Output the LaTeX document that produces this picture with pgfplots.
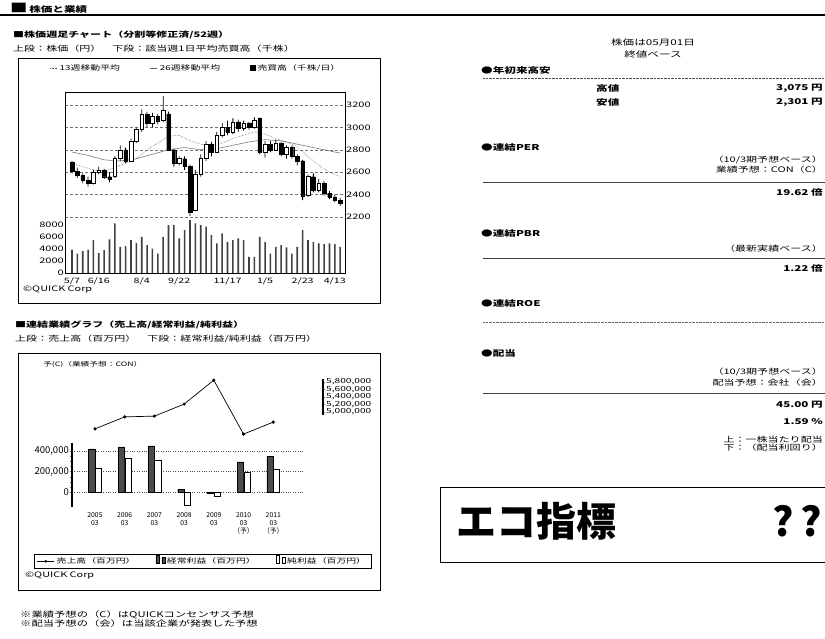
\documentclass[border=0pt]{standalone}
\usepackage{pgfplots}
\pgfplotsset{compat=1.18}
\usepackage{pgfplotstable}
\usepackage{fontspec}
\setmainfont{Noto Sans CJK JP}[FakeStretch=1.45]
\newfontfamily\jpn{Noto Sans CJK JP}
\newcommand\fs[2]{\fontsize{#1}{#2}\selectfont}
\pgfplotstableread{
w o c h l v
0 2690 2610 2700 2590 3900
1 2610 2570 2640 2550 3240
2 2570 2530 2590 2500 3630
3 2530 2500 2560 2470 3900
4 2500 2600 2620 2490 5480
5 2600 2620 2650 2580 3350
6 2620 2560 2630 2540 3800
7 2560 2540 2600 2510 5590
8 2560 2720 2740 2550 8270
9 2720 2800 2840 2700 4360
10 2800 2700 2820 2680 4470
11 2700 2880 2900 2690 5480
12 2880 2980 3000 2860 5030
13 2980 3120 3160 2960 6040
14 3120 3040 3140 3000 4640
15 3040 3100 3130 3000 4080
16 3100 3060 3120 3030 3240
17 3060 3150 3280 3050 6040
18 3120 2800 3140 2790 7990
19 2800 2680 2810 2650 7990
20 2680 2720 2740 2660 5760
21 2720 2650 2740 2620 7160
22 2650 2240 2670 2210 8830
23 2260 2580 2620 2250 8270
24 2580 2720 2760 2560 7990
25 2720 2850 2880 2700 7710
26 2850 2780 2870 2740 6320
27 2780 2930 2960 2770 4920
28 2930 3000 3040 2910 6600
29 3000 2960 3060 2930 5200
30 2960 3050 3080 2940 5480
31 3050 2990 3070 2960 5760
32 2990 3040 3060 2970 5480
33 3040 3000 3050 2980 2680
34 3000 3060 3090 2990 2680
35 3080 2780 3090 2760 6040
36 2780 2850 2880 2730 5200
37 2850 2800 2880 2780 3240
38 2800 2860 2890 2790 4360
39 2860 2760 2870 2740 4640
40 2760 2820 2840 2720 4250
41 2820 2740 2840 2720 3240
42 2740 2700 2760 2660 4360
43 2700 2390 2710 2350 7160
44 2390 2560 2580 2380 5480
45 2560 2440 2590 2420 5200
46 2440 2500 2540 2420 4920
47 2500 2410 2520 2390 4800
48 2410 2380 2430 2360 4920
49 2380 2350 2400 2330 4800
50 2350 2320 2370 2300 4360
}\weekly
\begin{document}
\begin{tikzpicture}[x=1pt,y=1pt]
\useasboundingbox (0,0) rectangle (825,638);
\clip (0,0) rectangle (825,638);
\fill[white] (0,0) rectangle (825,638);
% header
\node[anchor=west,inner sep=0] at (10,630) {{\fs{12}{12}■}\,\fs{8}{8}\bfseries 株価と業績};
\draw[line width=1.2pt] (0,623) -- (825,623);
% ---------- chart 1 ----------
\node[anchor=west,inner sep=0] at (13,603) {\fs{7.6}{8}\bfseries ■株価週足チャート（分割等修正済/52週）};
\node[anchor=west,inner sep=0] at (13,589) {\fs{7.6}{8}上段：株価（円）　下段：該当週1日平均売買高（千株）};
\draw[line width=0.7pt] (18,580) rectangle (380,335);
\node[anchor=west,inner sep=0] at (23,348) {\fs{7.5}{8}©QUICK Corp};

% price axis with grid, moving averages, legend
\begin{axis}[at={(65pt,417pt)}, anchor=south west, scale only axis, width=280pt, height=129pt,
  xmin=-1.3, xmax=50.9, ymin=2164, ymax=3316,
  axis line style={draw=none}, tick style={draw=none}, xtick=\empty,
  ytick={2200,2400,2600,2800,3000,3200}, yticklabels={2200,2400,2600,2800,3000,3200},
  yticklabel pos=right, yticklabel style={font=\fs{7.6}{8}, inner xsep=1pt},
  ymajorgrids, grid style={densely dashed, black!55, line width=0.4pt},
  legend style={at={(0.468,1.186)}, anchor=center, draw=none, fill=none, font=\fs{6.8}{7},
    legend columns=3, /tikz/every even column/.append style={column sep=28pt}},
  legend cell align=left,
  legend image code/.code={\draw[#1,line width=0.9pt] (0pt,0pt) -- (7pt,0pt);}]
\addplot[black!70, line width=0.5pt, densely dotted] coordinates {(0,2680) (2,2650) (4,2620) (6,2610) (8,2640) (10,2680) (12,2720) (14,2800) (16,2860) (18,2920) (20,2930) (22,2880) (24,2850) (26,2840) (28,2860) (30,2900) (32,2930) (34,2960) (36,2940) (38,2900) (40,2870) (42,2830) (44,2740) (46,2660) (48,2600) (50,2560)};
\addlegendentry{13週移動平均}
\addplot[black!60, line width=0.5pt] coordinates {(0,2780) (3,2750) (6,2710) (9,2700) (12,2720) (15,2760) (18,2800) (21,2820) (24,2800) (27,2810) (30,2840) (33,2870) (36,2890) (39,2880) (42,2850) (45,2820) (48,2790) (50,2770)};
\addlegendentry{26週移動平均}
\addlegendimage{legend image code/.code={\fill[black] (0pt,-2.5pt) rectangle (5pt,2.5pt);}}
\addlegendentry{売買高（千株/日）}
\end{axis}

% wicks
\begin{axis}[at={(65pt,417pt)}, anchor=south west, scale only axis, width=280pt, height=129pt,
  xmin=-1.3, xmax=50.9, ymin=2164, ymax=3316, hide axis, ybar stacked, bar width=0.8pt]
\addplot[draw=none, fill=none] table[x=w, y=l]{\weekly};
\addplot[fill=black, draw=none] table[x=w, y expr={\thisrow{h}-\thisrow{l}}]{\weekly};
\end{axis}
% candle bodies
\begin{axis}[at={(65pt,417pt)}, anchor=south west, scale only axis, width=280pt, height=129pt,
  xmin=-1.3, xmax=50.9, ymin=2164, ymax=3316, hide axis, ybar stacked, bar width=3.6pt]
\addplot[draw=none, fill=none] table[x=w, y expr={min(\thisrow{o},\thisrow{c})}]{\weekly};
\addplot[fill=black, draw=black, line width=0.3pt] table[x=w, y expr={max(\thisrow{o}-\thisrow{c},0)}]{\weekly};
\addplot[fill=white, draw=black, line width=0.5pt] table[x=w, y expr={max(\thisrow{c}-\thisrow{o},0)}]{\weekly};
\end{axis}

% volume
\begin{axis}[at={(65pt,365pt)}, anchor=south west, scale only axis, width=280pt, height=52pt,
  xmin=-1.3, xmax=50.9, ymin=0, ymax=8667,
  axis line style={draw=none}, tick style={draw=none},
  ytick={0,2000,4000,6000,8000}, yticklabels={0,2000,4000,6000,8000},
  yticklabel style={font=\fs{7.6}{8}, inner xsep=1pt},
  xtick={0,5,13,20,29,36,43,49}, xticklabels={5/7,6/16,8/4,9/22,11/17,1/5,2/23,4/13},
  xticklabel style={font=\fs{7.4}{8}, yshift=-1pt}]
\addplot[ybar, bar width=1.6pt, fill=black!75, draw=none] table[x=w, y=v]{\weekly};
\end{axis}

% frame
\begin{axis}[at={(65pt,365pt)}, anchor=south west, scale only axis, width=280pt, height=181pt,
  xmin=0, xmax=1, ymin=0, ymax=1, xtick=\empty, ytick=\empty, axis line style={line width=0.7pt}]
\addplot[draw=none] coordinates {(0,0)};
\end{axis}

% ---------- chart 2 ----------
\node[anchor=west,inner sep=0] at (15,313) {\fs{7.6}{8}\bfseries ■連結業績グラフ（売上高/経常利益/純利益）};
\node[anchor=west,inner sep=0] at (15,299) {\fs{7.6}{8}上段：売上高（百万円）　下段：経常利益/純利益（百万円）};
\draw[line width=0.7pt] (18,285) rectangle (380,48);
\node[anchor=west,inner sep=0] at (43,273) {\fs{6}{6}予(C)（業績予想：CON）};
\node[anchor=west,inner sep=0] at (25,62) {\fs{7.5}{8}©QUICK Corp};

% sales (right scale)
\begin{axis}[at={(72pt,223pt)}, anchor=south west, scale only axis, width=251pt, height=35.6pt,
  xmin=-0.774, xmax=7.677, ymin=4920000, ymax=5870000,
  axis x line=none, axis y line*=right, y axis line style={line width=1.4pt,-},
  ytick={5000000,5200000,5400000,5600000,5800000},
  yticklabels={{5,000,000},{5,200,000},{5,400,000},{5,600,000},{5,800,000}},
  yticklabel style={font=\fs{7}{7}, inner xsep=1pt}, scaled y ticks=false,
  tick align=outside, major tick length=2pt, clip=false]
\addplot[black, line width=0.7pt, mark=*, mark size=1.2pt] coordinates {(0,4550000) (1,4870000) (2,4890000) (3,5210000) (4,5850000) (5,4410000) (6,4730000)};
\end{axis}

% profits
\begin{axis}[at={(72pt,131pt)}, anchor=south west, scale only axis, width=231pt, height=64pt,
  xmin=-0.774, xmax=7.0, ymin=-146000, ymax=478000,
  axis y line*=left, axis x line*=bottom, x axis line style={draw=none},
  y axis line style={line width=1.3pt,-},
  xtick={0,1,2,3,4,5,6}, xtick style={draw=none},
  xticklabels={{2005\\03},{2006\\03},{2007\\03},{2008\\03},{2009\\03},{2010\\03\\（予）},{2011\\03\\（予）}},
  xticklabel style={align=center, font=\jpn\fs{6.8}{8}},
  ytick={0,200000,400000}, yticklabels={0,{200,000},{400,000}},
  yticklabel style={font=\jpn\fs{9.5}{10}, inner xsep=1pt}, scaled y ticks=false,
  ymajorgrids, grid style={dotted, black!70},
  tick align=outside, major tick length=2pt, minor y tick num=3, minor tick length=1.5pt,
  ybar, bar width=6.2pt,
  legend style={at={(0.565,-0.844)}, anchor=center, draw=black, fill=white, font=\fs{6.8}{7},
    legend columns=3, /tikz/every even column/.append style={column sep=18pt}, inner ysep=1pt},
  legend cell align=left]
\addlegendimage{line legend, black, line width=0.7pt, mark=*, mark size=1pt, sharp plot}
\addlegendentry{売上高（百万円）}
\addplot[fill=black!70, draw=black, line width=0.4pt, bar shift=-3.3pt] coordinates {(0,420000) (1,439000) (2,449000) (3,25000) (4,-10000) (5,293000) (6,351000)};
\addlegendentry{経常利益（百万円）}
\addplot[fill=white, draw=black, line width=0.5pt, bar shift=3.3pt] coordinates {(0,234000) (1,332000) (2,312000) (3,-130000) (4,-45000) (5,195000) (6,224000)};
\addlegendentry{純利益（百万円）}
\end{axis}

% notes
\node[anchor=west,inner sep=0] at (20,23) {\fs{7.8}{8}※業績予想の（C）はQUICKコンセンサス予想};
\node[anchor=west,inner sep=0] at (20,14) {\fs{7.8}{8}※配当予想の（会）は当該企業が発表した予想};

% ---------- right column ----------
\node[inner sep=0] at (653,596) {\fs{8}{8}株価は05月01日};
\node[inner sep=0] at (653,584) {\fs{8}{8}終値ベース};
\node[anchor=west,inner sep=0] at (481,568) {\fs{8}{8}\bfseries ●年初来高安};
\draw[densely dotted, black!70] (483,560) -- (825,560);
\node[anchor=west,inner sep=0] at (596,550) {\fs{8}{8}\bfseries 高値};
\node[anchor=east,inner sep=0] at (823,550) {\fs{8}{8}\bfseries 3,075 円};
\node[anchor=west,inner sep=0] at (596,536) {\fs{8}{8}\bfseries 安値};
\node[anchor=east,inner sep=0] at (823,536) {\fs{8}{8}\bfseries 2,301 円};

\node[anchor=west,inner sep=0] at (481,491) {\fs{8}{8}\bfseries ●連結PER};
\node[anchor=east,inner sep=0] at (823,478) {\fs{7.6}{8}（10/3期予想ベース）};
\node[anchor=east,inner sep=0] at (823,468) {\fs{7.6}{8}業績予想：CON（C）};
\draw[black!75, line width=0.5pt] (483,456) -- (825,456);
\node[anchor=east,inner sep=0] at (823,446) {\fs{8}{8}\bfseries 19.62 倍};

\node[anchor=west,inner sep=0] at (481,405) {\fs{8}{8}\bfseries ●連結PBR};
\node[anchor=east,inner sep=0] at (823,389) {\fs{7.6}{8}（最新実績ベース）};
\draw[black!75, line width=0.5pt] (483,380) -- (825,380);
\node[anchor=east,inner sep=0] at (823,370) {\fs{8}{8}\bfseries 1.22 倍};

\node[anchor=west,inner sep=0] at (481,335) {\fs{8}{8}\bfseries ●連結ROE};
\draw[densely dotted, black!60] (483,316) -- (825,316);

\node[anchor=west,inner sep=0] at (481,285) {\fs{8}{8}\bfseries ●配当};
\node[anchor=east,inner sep=0] at (823,266) {\fs{7.6}{8}（10/3期予想ベース）};
\node[anchor=east,inner sep=0] at (823,255) {\fs{7.6}{8}配当予想：会社（会）};
\draw[black!75, line width=0.5pt] (483,245) -- (825,245);
\node[anchor=east,inner sep=0] at (823,233) {\fs{8}{8}\bfseries 45.00 円};
\node[anchor=east,inner sep=0] at (823,216) {\fs{8}{8}\bfseries 1.59 \%};
\node[anchor=east,inner sep=0] at (823,198) {\fs{7.6}{8}上：一株当たり配当};
\node[anchor=east,inner sep=0] at (823,190) {\fs{7.6}{8}下：（配当利回り）};

\draw[line width=0.8pt] (440,151) rectangle (830,76);
\node[anchor=west,inner sep=0] at (456,117) {\jpn\fs{40}{40}\bfseries エコ指標};
\node[anchor=east,inner sep=0] at (822,117) {\jpn\fs{40}{40}\bfseries ?\,?};
\end{tikzpicture}
\end{document}
